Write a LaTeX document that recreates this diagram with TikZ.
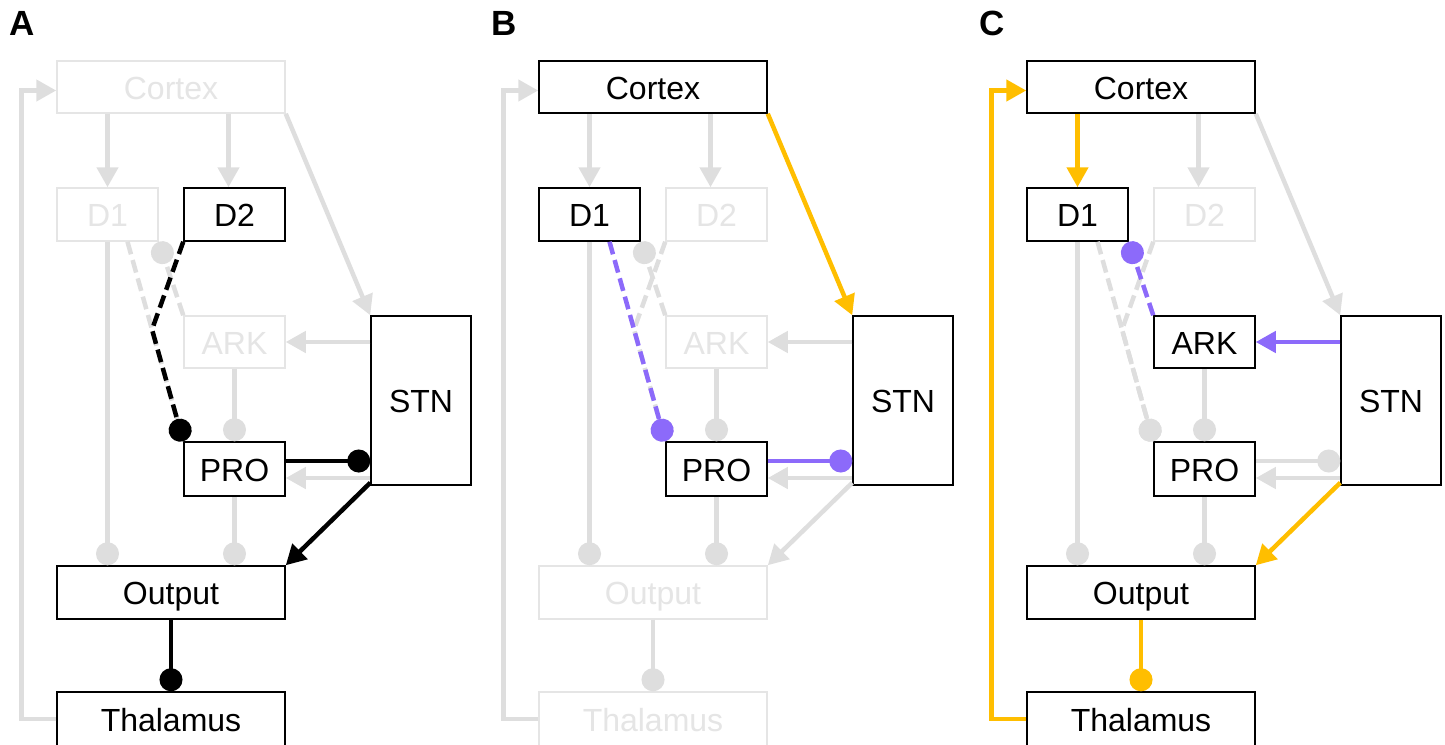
\documentclass[tikz,border=0pt]{standalone}
\usepackage{fontspec}
\setmainfont{Liberation Sans}
\usepackage{tikz}
\usetikzlibrary{arrows.meta,calc}

\definecolor{Grey}{RGB}{222,222,222}
\definecolor{Faint}{RGB}{229,229,229}
\definecolor{Gold}{RGB}{255,190,0}
\definecolor{Violet}{RGB}{140,106,250}

\begin{document}
\begin{tikzpicture}[x=1pt, y=-1pt]
			\tikzstyle{Box}		= [rectangle, draw, fill=white, line width=1.5pt, inner sep=0pt, text height=24pt, text depth=0pt, font=\fontsize{32}{38}\selectfont]
			\tikzstyle{On}		= [draw=black, text=black]
			\tikzstyle{Off}		= [draw=Faint, text=Faint]
			\tikzstyle{Panel}	= [inner sep=0pt, text height=25pt, text depth=0pt, font=\fontsize{35}{40}\selectfont\bfseries]
			\tikzstyle{Link}	= [line width=4.5pt, Grey]
			\tikzstyle{Exc}		= [-{Triangle[length=20pt, width=21pt]}]
			\tikzstyle{Inh}		= [-{Circle[length=23pt]}]
			\tikzstyle{Dash}	= [dash pattern=on 13pt off 6pt]
			\tikzset{cortexA/.style=Off, d1A/.style=Off, d2A/.style=On, arkA/.style=Off, stnA/.style=On, proA/.style=On, outputA/.style=On, thalA/.style=On,
				cortexB/.style=On, d1B/.style=On, d2B/.style=Off, arkB/.style=Off, stnB/.style=On, proB/.style=On, outputB/.style=Off, thalB/.style=Off,
				cortexC/.style=On, d1C/.style=On, d2C/.style=Off, arkC/.style=On, stnC/.style=On, proC/.style=On, outputC/.style=On, thalC/.style=On}

			\clip (0,0) rectangle (1445,744);

			\foreach \p/\dx in {A/0, B/482, C/970}
			{
				\node (lab\p) at (22+\dx, 23) [Panel] {\p};
				\foreach \n/\t/\x/\y/\w/\h in {cortex/Cortex/171/87/228/52, d1/D1/107.5/214.5/101/53, d2/D2/234.5/214.5/101/53, ark/ARK/234.5/342/101/52, stn/STN/421/400.5/100/169, pro/PRO/234.5/469/101/54, output/Output/171/592.5/228/53, thal/Thalamus/171/719/228/54}
					\node (\n\p) at (\x+\dx, \y) [Box, minimum width=\w pt, minimum height=\h pt, \n\p] {\t};
				% always grey
				\coordinate (dstart\p) at ($(d1\p.south)+(20,0)$);
				\coordinate (kink\p) at ($(dstart\p)!0.44!(pro\p.north west)$);
				\draw [Link, Exc] ($(cortex\p.south -| d2\p)+(-6,0)$) -- ($(d2\p.north)+(-6,0)$);
				\draw [Link, Inh] (ark\p.south) -- (pro\p.north);
				\draw [Link, Exc] ($(pro\p.east -| stn\p.west)+(0,9)$) -- ($(pro\p.east)+(0,9)$);
				\draw [Link, Inh] (d1\p.south) -- (d1\p.south |- output\p.north);
				\draw [Link, Inh] (pro\p.south) -- (pro\p.south |- output\p.north);
			}

			% A: indirect pathway
			\draw [Link, Exc] (thalA.west) -- ++(-35,0) |- ([yshift=-3.5pt]cortexA.west);
			\draw [Link, Exc] (cortexA.south -| d1A) -- (d1A.north);
			\draw [Link, Exc] (cortexA.south east) -- (stnA.north west);
			\draw [Link, Exc] (stnA.west |- arkA.east) -- (arkA.east);
			\draw [Link, Dash, Inh] (dstartA) -- (proA.north west);
			\draw [Link, Dash, Inh] (arkA.north west) -- (d1A.south east);
			\draw [Link, Dash, Inh] (d2A.south west) -- (kinkA) -- (proA.north west) [black];
			\draw [Link, Inh] ($(proA.east)+(0,-8)$) -- ($(proA.east -| stnA.west)+(0,-8)$) [black];
			\draw [Link, Exc] ($(stnA.south west)+(0,-3)$) -- (outputA.north east) [black];
			\draw [Link, Inh] (outputA.south) -- (thalA.north) [black];

			% B
			\draw [Link, Exc] (thalB.west) -- ++(-35,0) |- ([yshift=-3.5pt]cortexB.west);
			\draw [Link, Exc] (cortexB.south -| d1B) -- (d1B.north);
			\draw [Link, Exc] (stnB.west |- arkB.east) -- (arkB.east);
			\draw [Link, Dash, Inh] (d2B.south west) -- (kinkB) -- (proB.north west);
			\draw [Link, Dash, Inh] (arkB.north west) -- (d1B.south east);
			\draw [Link, Exc] ($(stnB.south west)+(0,-3)$) -- (outputB.north east);
			\draw [Link, Inh] (outputB.south) -- (thalB.north);
			\draw [Link, Exc] (cortexB.south east) -- (stnB.north west) [Gold];
			\draw [Link, Dash, Inh] (dstartB) -- (proB.north west) [Violet];
			\draw [Link, Inh] ($(proB.east)+(0,-8)$) -- ($(proB.east -| stnB.west)+(0,-8)$) [Violet];

			% C
			\draw [Link, Exc] (cortexC.south east) -- (stnC.north west);
			\draw [Link, Dash, Inh] (dstartC) -- (proC.north west);
			\draw [Link, Dash, Inh] (d2C.south west) -- (kinkC) -- (proC.north west);
			\draw [Link, Inh] ($(proC.east)+(0,-8)$) -- ($(proC.east -| stnC.west)+(0,-8)$);
			\draw [Link, Exc] (thalC.west) -- ++(-35,0) |- ([yshift=-3.5pt]cortexC.west) [Gold];
			\draw [Link, Exc] (cortexC.south -| d1C) -- (d1C.north) [Gold];
			\draw [Link, Exc] (stnC.west |- arkC.east) -- (arkC.east) [Violet];
			\draw [Link, Dash, Inh] (arkC.north west) -- (d1C.south east) [Violet];
			\draw [Link, Exc] ($(stnC.south west)+(0,-3)$) -- (outputC.north east) [Gold];
			\draw [Link, Inh] (outputC.south) -- (thalC.north) [Gold];
		\end{tikzpicture}
\end{document}
